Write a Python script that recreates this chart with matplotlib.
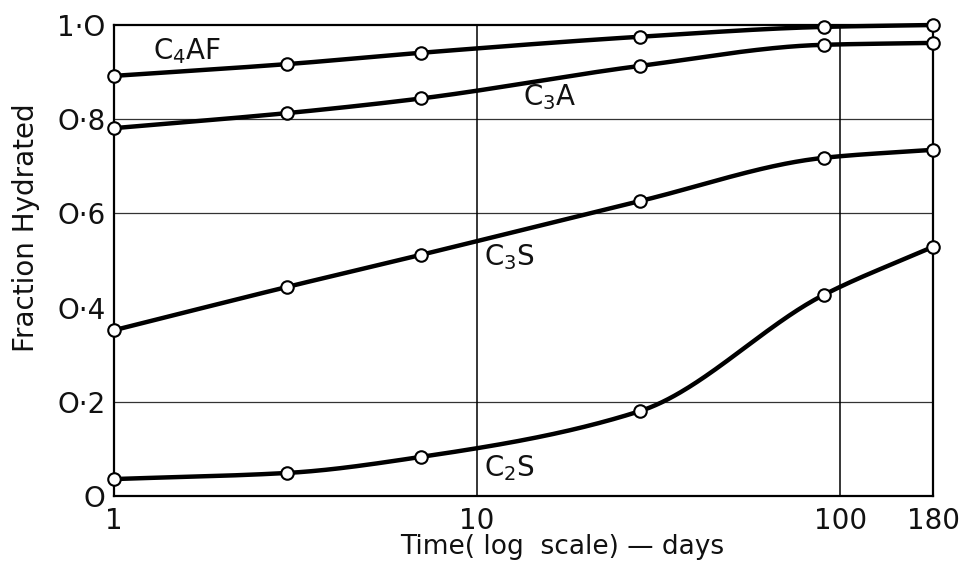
import numpy as np
import matplotlib
matplotlib.use("Agg")
import matplotlib.pyplot as plt

plt.rcParams['font.family'] = ['DejaVu Sans']
plt.rcParams['mathtext.fontset'] = 'dejavusans'

days = [1, 3, 7, 28, 90, 180]
c4af = [0.892, 0.917, 0.941, 0.975, 0.996, 1.0]
c3a = [0.781, 0.813, 0.844, 0.913, 0.958, 0.962]
c3s = [0.352, 0.444, 0.512, 0.626, 0.718, 0.735]
c2s = [0.036, 0.049, 0.083, 0.180, 0.427, 0.529]

series = [("C$_4$AF", c4af, (1.28, 0.945)),
          ("C$_3$A", c3a, (13.4, 0.847)),
          ("C$_3$S", c3s, (10.45, 0.507)),
          ("C$_2$S", c2s, (10.45, 0.059))]

xticks = [1, 10, 100, 180]
xticklabels = ["1", "10", "100", "180"]
yticks = [0, 0.2, 0.4, 0.6, 0.8, 1.0]
yticklabels = ["O", "O·2", "O·4", "O·6", "O·8", "1·O"]


def pchip(x, y, xs):
    x = np.asarray(x, float); y = np.asarray(y, float)
    h = np.diff(x); d = np.diff(y) / h
    n = len(x); m = np.zeros(n)
    for k in range(1, n - 1):
        if d[k - 1] * d[k] > 0:
            w1 = 2 * h[k] + h[k - 1]; w2 = h[k] + 2 * h[k - 1]
            m[k] = (w1 + w2) / (w1 / d[k - 1] + w2 / d[k])
    m[0] = d[0]; m[-1] = d[-1]
    idx = np.clip(np.searchsorted(x, xs) - 1, 0, n - 2)
    t = (xs - x[idx]) / h[idx]
    h00 = 2 * t**3 - 3 * t**2 + 1; h10 = t**3 - 2 * t**2 + t
    h01 = -2 * t**3 + 3 * t**2; h11 = t**3 - t**2
    return h00 * y[idx] + h10 * h[idx] * m[idx] + h01 * y[idx + 1] + h11 * h[idx] * m[idx + 1]


fig = plt.figure(figsize=(9.72, 5.67), dpi=100)
ax = fig.add_axes([0.1173, 0.1252, 0.8426, 0.8307])
ax.set_xscale('log')
ax.set_xlim(1, 180)
ax.set_ylim(0, 1.0)

lx = np.log10(days)
xs = np.linspace(lx[0], lx[-1], 400)
for name, vals, (tx, ty) in series:
    ys = pchip(lx, vals, xs)
    ax.plot(10**xs, ys, color='black', lw=3.2, solid_capstyle='round', clip_on=False, zorder=3)
    ax.plot(days, vals, linestyle='none', marker='o', ms=9, mfc='white', mec='black',
            mew=1.5, clip_on=False, zorder=4)
    ax.text(tx, ty, name, fontsize=20, va='center', ha='left', color='#111111', zorder=5)

for yv in [0.2, 0.6, 0.8]:
    ax.axhline(yv, color='#333333', lw=0.9, zorder=1)
for xv in [10, 100]:
    ax.axvline(xv, color='black', lw=1.1, zorder=1)

for s in ax.spines.values():
    s.set_linewidth(1.6)

ax.set_xticks(xticks)
ax.set_xticklabels(xticklabels)
ax.xaxis.set_minor_locator(matplotlib.ticker.NullLocator())
ax.set_yticks(yticks)
ax.set_yticklabels(yticklabels)
ax.tick_params(length=0, labelsize=20, colors='#111111')
ax.tick_params(axis='x', pad=8)
ax.tick_params(axis='y', pad=6)

fig.text(0.578, 0.036, "Time( log  scale) — days", fontsize=19, ha='center', va='center',
         color='#111111')
fig.text(0.027, 0.598, "Fraction Hydrated", fontsize=20, rotation=90, ha='center', va='center',
         color='#111111')

fig.savefig("out.png", dpi=100, facecolor='white')
